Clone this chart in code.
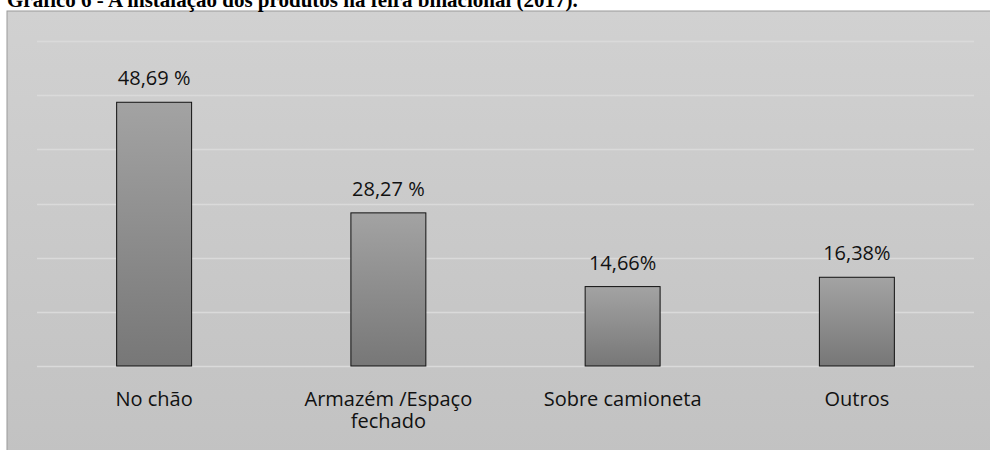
<!DOCTYPE html>
<html>
<head>
<meta charset="utf-8">
<script src="https://cdn.jsdelivr.net/npm/d3@7"></script>
<style>
  body { margin: 0; background: #fff; }
  svg { display: block; }
</style>
</head>
<body>
<div id="chart"></div>
<script>
const title = "Gráfico 6 - A instalação dos produtos na feira binacional (2017).";
const categories = [["No chão"], ["Armazém /Espaço", "fechado"], ["Sobre camioneta"], ["Outros"]];
const values = [48.69, 28.27, 14.66, 16.38];
const valueLabels = ["48,69 %", "28,27 %", "14,66%", "16,38%"];
const gridTicks = [0, 10, 20, 30, 40, 50, 60];

const width = 990;
const height = 450;
const panel = { x: 7, y: 11 };
const plot = { left: 37, right: 974, top: 41, bottom: 366 };
const font = "'Open Sans', sans-serif";

const svg = d3
  .select("#chart")
  .append("svg")
  .attr("width", width)
  .attr("height", height);

const defs = svg.append("defs");

const bgGrad = defs
  .append("linearGradient")
  .attr("id", "bgGrad")
  .attr("x1", 0).attr("y1", 0).attr("x2", 0).attr("y2", 1);
bgGrad.append("stop").attr("offset", "0%").attr("stop-color", "#d1d1d1");
bgGrad.append("stop").attr("offset", "100%").attr("stop-color", "#c2c2c2");

const barGrad = defs
  .append("linearGradient")
  .attr("id", "barGrad")
  .attr("x1", 0).attr("y1", 0).attr("x2", 0).attr("y2", 1);
barGrad.append("stop").attr("offset", "0%").attr("stop-color", "#a3a3a3");
barGrad.append("stop").attr("offset", "100%").attr("stop-color", "#777777");

// chart panel, runs off the right and bottom edge
svg
  .append("rect")
  .attr("x", panel.x)
  .attr("y", panel.y)
  .attr("width", width - panel.x + 5)
  .attr("height", height - panel.y + 5)
  .attr("fill", "url(#bgGrad)")
  .attr("stroke", "#9a9a9a")
  .attr("stroke-width", 1);

// title, cut off at the top like in the source
svg
  .append("text")
  .attr("x", 7)
  .attr("y", 7)
  .attr("font-family", "'Liberation Serif', 'Times New Roman', serif")
  .attr("font-weight", "bold")
  .attr("font-size", 21)
  .attr("fill", "#000")
  .text(title);

const x = d3
  .scaleBand()
  .domain(d3.range(values.length))
  .range([plot.left, plot.right])
  .paddingInner(0.68)
  .paddingOuter(0.34);

const y = d3
  .scaleLinear()
  .domain([0, 60])
  .range([plot.bottom, plot.top]);

// gridlines
svg
  .append("g")
  .selectAll("line")
  .data(gridTicks)
  .enter()
  .append("line")
  .attr("x1", plot.left)
  .attr("x2", plot.right)
  .attr("y1", (d) => Math.round(y(d)) + 0.5)
  .attr("y2", (d) => Math.round(y(d)) + 0.5)
  .attr("stroke", "#dadada")
  .attr("stroke-width", 1.5);

// bars
svg
  .append("g")
  .selectAll("rect")
  .data(values)
  .enter()
  .append("rect")
  .attr("x", (d, i) => x(i))
  .attr("y", (d) => y(d))
  .attr("width", x.bandwidth())
  .attr("height", (d) => y(0) - y(d))
  .attr("fill", "url(#barGrad)")
  .attr("stroke", "#111")
  .attr("stroke-width", 1);

// value labels
svg
  .append("g")
  .selectAll("text")
  .data(values)
  .enter()
  .append("text")
  .attr("x", (d, i) => x(i) + x.bandwidth() / 2)
  .attr("y", (d) => y(d) - 17)
  .attr("text-anchor", "middle")
  .attr("font-family", font)
  .attr("font-size", 20)
  .attr("fill", "#111")
  .text((d, i) => valueLabels[i]);

// category labels
const cats = svg
  .append("g")
  .selectAll("text")
  .data(categories)
  .enter()
  .append("text")
  .attr("x", (d, i) => x(i) + x.bandwidth() / 2)
  .attr("y", 406)
  .attr("text-anchor", "middle")
  .attr("font-family", font)
  .attr("font-size", 20)
  .attr("fill", "#111");

cats
  .selectAll("tspan")
  .data((d, i) => d.map((t) => ({ t, i })))
  .enter()
  .append("tspan")
  .attr("x", (d) => x(d.i) + x.bandwidth() / 2)
  .attr("dy", (d, j) => (j === 0 ? 0 : 22))
  .text((d) => d.t);
</script>
</body>
</html>
